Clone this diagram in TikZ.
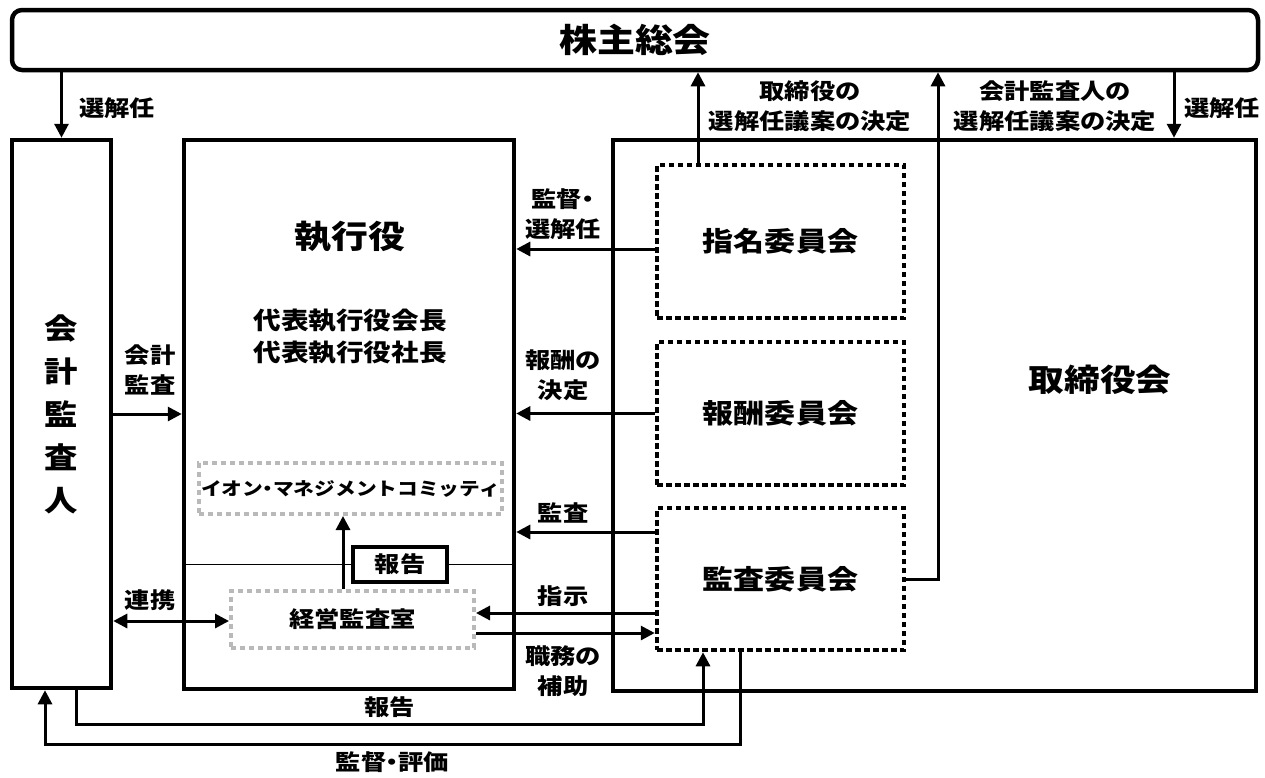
\documentclass[tikz,border=0pt]{standalone}
\usepackage{fontspec}
\setmainfont{Noto Sans CJK JP}[FakeStretch=1.15]
\usetikzlibrary{arrows.meta}
\newcommand{\nkg}{\kern-0.3em・\kern-0.3em}

\begin{document}
\begin{tikzpicture}[x=1pt,y=-1pt,
  box/.style={draw,line width=4.5pt,inner sep=0pt},
  iinkai/.style={draw,line width=4.5pt,dash pattern=on 5.5pt off 3.5pt,
    inner sep=0pt,minimum width=247pt,font=\bfseries\fontsize{27}{27}\selectfont},
  grayb/.style={draw=gray!55,line width=4pt,dash pattern=on 5pt off 4pt,inner sep=0pt},
  arr/.style={line width=3pt,-{Triangle[length=14pt,width=14pt]}},
  arrboth/.style={line width=3pt,{Triangle[length=14pt,width=14pt]}-{Triangle[length=14pt,width=14pt]}},
  lbl/.style={font=\bfseries\fontsize{22}{30}\selectfont,align=center,inner sep=0pt}]
  \useasboundingbox (0,0) rectangle (1265,777);
  % shareholders, auditor, executive officers, board
  \node[box,rounded corners=10pt,minimum width=1246pt,minimum height=60pt,
    font=\bfseries\fontsize{33}{33}\selectfont] (soukai) at (635,40) {株主総会};
  \node[box,minimum width=99pt,minimum height=548pt,align=center,
    font=\bfseries\fontsize{29}{43}\selectfont] (kaikei) at (61.5,414) {会\\計\\監\\査\\人};
  \node[box,minimum width=330pt,minimum height=549pt] (shikko) at (349,414.5) {};
  \node[font=\bfseries\fontsize{32}{32}\selectfont] (shikkot) at (350,237) {執行役};
  \node[align=center,font=\bfseries\fontsize{24}{32}\selectfont] (daihyo) at (350,337)
    {代表執行役会長\\代表執行役社長};
  \node[grayb,minimum width=303pt,minimum height=51pt,
    font=\bfseries\fontsize{18}{18}\selectfont] (aeon) at (350.5,488.5) {イオン\nkg マネジメントコミッティ};
  \node[grayb,minimum width=243pt,minimum height=57pt,
    font=\bfseries\fontsize{22}{22}\selectfont] (keiei) at (352.5,619.5) {経営監査室};
  \node[box,line width=3.5pt,fill=white,minimum width=94pt,minimum height=35pt,
    font=\bfseries\fontsize{22}{22}\selectfont] (houkoku) at (400,564.5) {報告};
  \draw[line width=1.5pt] (shikko.west |- houkoku) -- (houkoku.west)
    (houkoku.east) -- (houkoku -| shikko.east);
  \node[box,minimum width=643pt,minimum height=551pt] (tori) at (934.5,415.5) {};
  \node[font=\bfseries\fontsize{31}{31}\selectfont] (torit) at (1100,380) {取締役会};
  \node[iinkai,minimum height=153pt] (shimei) at (780.5,241.5) {指名委員会};
  \node[iinkai,minimum height=143pt] (hoshu) at (780.5,413.5) {報酬委員会};
  \node[iinkai,minimum height=142pt] (kansa) at (780.5,579) {監査委員会};

  % connectors
  \coordinate (sm) at ([xshift=-82.5pt]shimei.north);
  \coordinate (tn) at ([xshift=239.5pt]tori.north);
  \coordinate (s1) at ([yshift=-7.5pt]shimei.west);
  \coordinate (s3) at ([yshift=47pt]kansa.west);
  \coordinate (s4) at ([yshift=-34pt]kansa.west);
  \coordinate (s5) at ([yshift=-13.5pt]keiei.east);
  \coordinate (s6) at ([yshift=-207pt]kaikei.east);
  \coordinate (u1) at ([xshift=-9.5pt]keiei.north);
  \coordinate (r1) at ([xshift=14.5pt]kaikei.south);
  \coordinate (r2) at ([xshift=-77.5pt]kansa.south);
  \coordinate (k1) at ([xshift=-40.5pt]kansa.south);
  \coordinate (k2) at ([xshift=-16.5pt]kaikei.south);
  \draw[arr] (kaikei.north |- soukai.south) -- (kaikei.north);
  \draw[arr] (sm) -- (sm |- soukai.south);
  \draw[arr] (kansa.east) -| ([xshift=303pt]soukai.south);
  \draw[arr] (tn |- soukai.south) -- (tn);
  \draw[arr] (s1) -- (s1 -| shikko.east);
  \draw[arr] (hoshu.west) -- (hoshu.west -| shikko.east);
  \draw[arr] (s3) -- (s3 -| shikko.east);
  \draw[arr] (s4) -- (s4 -| keiei.east);
  \draw[arr] (s5) -- (s5 -| kansa.west);
  \draw[arr] (kaikei.east) -- (kaikei.east -| shikko.west);
  \draw[arrboth] (s6) -- (s6 -| keiei.west);
  \draw[arr] (u1) -- (u1 |- aeon.south);
  \draw[arr] (r1) -- ++(0,34) -| (r2) node[pos=0.25,above=5pt,lbl] (lr) {報告};
  \draw[arr] (k1) -- ++(0,92) -| (k2) node[pos=0.25,below=6pt,lbl] (lk) {監督\nkg 評価};

  % labels
  \node[lbl] (l1) at (117,108) {選解任};
  \node[lbl] (l2) at (810,106) {取締役の\\選解任議案の決定};
  \node[lbl] (l3) at (1055,106) {会計監査人の\\選解任議案の決定};
  \node[lbl] (l4) at (1222,108) {選解任};
  \node[lbl] (l5) at (563,214) {監督\nkg\\選解任};
  \node[lbl] (l6) at (563,375) {報酬の\\決定};
  \node[lbl] (l7) at (563,513) {監査};
  \node[lbl] (l8) at (563,596) {指示};
  \node[lbl] (l9) at (563,671) {職務の\\補助};
  \node[lbl] (l10) at (150,370) {会計\\監査};
  \node[lbl] (l11) at (150,600) {連携};
\end{tikzpicture}
\end{document}
